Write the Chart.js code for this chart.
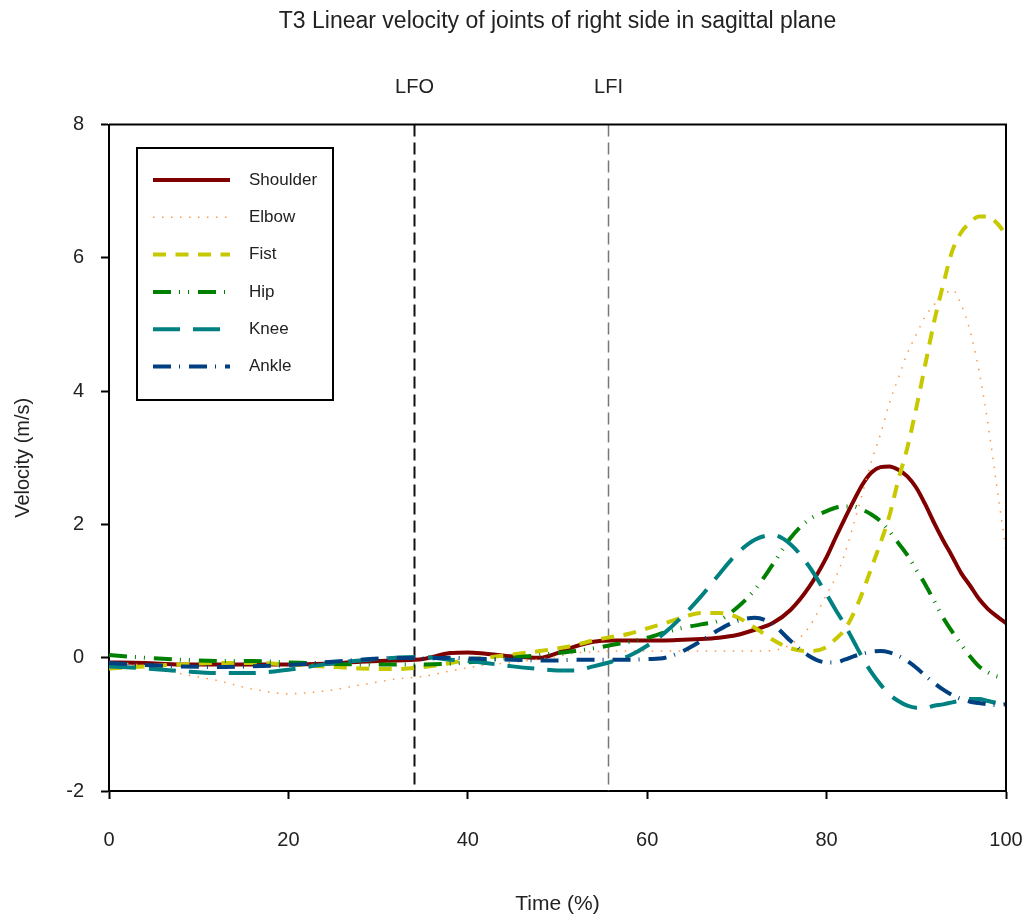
<!DOCTYPE html>
<html>
<head>
<meta charset="utf-8">
<title>T3 Linear velocity</title>
<script src="https://cdn.jsdelivr.net/npm/chart.js@4.4.0/dist/chart.umd.min.js"></script>
<style>
  html, body { margin: 0; padding: 0; background: #fff; }
  #wrap { width: 1029px; height: 917px; }
</style>
</head>
<body>
<div id="wrap"><canvas id="chart" width="1029" height="917"></canvas></div>
<script>
// Zeit (% des Bewegungszyklus) und Geschwindigkeiten (m/s) der rechten Gelenke
const time = [0, 4, 8, 12, 16, 20, 24, 28, 32, 35, 38, 40, 42, 45, 48,
  50, 52, 54, 56, 58, 60, 62, 64, 66, 68, 70, 72, 74, 76, 78, 80,
  81, 82, 83, 84, 85, 86, 87, 88, 89, 90, 91, 92, 93, 94, 95, 96, 97, 98, 99, 100];

const shoulder = [-0.07, -0.08, -0.1, -0.1, -0.1, -0.1, -0.09, -0.06, -0.04, -0.02, 0.07, 0.08, 0.06, 0.02, 0.0,
  0.07, 0.17, 0.24, 0.26, 0.26, 0.26, 0.26, 0.27, 0.28, 0.3, 0.34, 0.42, 0.52, 0.72, 1.05, 1.51,
  1.8, 2.08, 2.35, 2.6, 2.78, 2.86, 2.87, 2.82, 2.72, 2.55, 2.3, 2.02, 1.76, 1.52, 1.27, 1.08, 0.88, 0.73, 0.62, 0.52];

const elbow = [-0.06, -0.12, -0.24, -0.34, -0.47, -0.54, -0.5, -0.41, -0.32, -0.28, -0.2, -0.15, -0.11, -0.07, -0.02,
  0.02, 0.07, 0.09, 0.1, 0.1, 0.1, 0.1, 0.1, 0.1, 0.1, 0.1, 0.1, 0.11, 0.2, 0.45, 0.95,
  1.2, 1.55, 2.0, 2.47, 2.95, 3.35, 3.82, 4.2, 4.57, 4.85, 5.12, 5.3, 5.43, 5.52, 5.3, 4.9, 4.3, 3.5, 2.55, 1.6];

const fist = [-0.16, -0.13, -0.1, -0.08, -0.08, -0.1, -0.13, -0.16, -0.17, -0.14, -0.08, -0.03, 0.0, 0.05, 0.1,
  0.14, 0.19, 0.26, 0.31, 0.36, 0.44, 0.52, 0.61, 0.67, 0.67, 0.61, 0.45, 0.27, 0.14, 0.1, 0.16,
  0.28, 0.42, 0.66, 0.98, 1.35, 1.72, 2.13, 2.67, 3.15, 3.75, 4.4, 5.05, 5.6, 6.1, 6.38, 6.53, 6.62, 6.62, 6.52, 6.35];

const hip = [0.04, 0.0, -0.03, -0.05, -0.05, -0.07, -0.09, -0.1, -0.1, -0.1, -0.09, -0.07, -0.04, 0.0, 0.04,
  0.07, 0.1, 0.14, 0.19, 0.24, 0.3, 0.38, 0.45, 0.5, 0.56, 0.75, 1.02, 1.4, 1.8, 2.07, 2.2,
  2.25, 2.27, 2.27, 2.22, 2.15, 2.05, 1.9, 1.72, 1.54, 1.32, 1.1, 0.85, 0.6, 0.39, 0.2, 0.02, -0.13, -0.22, -0.28, -0.3];

const knee = [-0.13, -0.16, -0.2, -0.23, -0.23, -0.18, -0.1, -0.04, 0.0, 0.01, -0.03, -0.05, -0.08, -0.13, -0.17,
  -0.19, -0.19, -0.13, -0.06, 0.03, 0.18, 0.38, 0.63, 0.92, 1.25, 1.56, 1.77, 1.84, 1.7, 1.38, 0.95,
  0.72, 0.5, 0.25, 0.0, -0.22, -0.4, -0.55, -0.65, -0.72, -0.75, -0.75, -0.72, -0.7, -0.67, -0.64, -0.62, -0.62, -0.65, -0.68, -0.7];

const ankle = [-0.08, -0.11, -0.13, -0.14, -0.13, -0.11, -0.07, -0.03, 0.0, -0.01, 0.0, -0.01, -0.02, -0.03, -0.04,
  -0.04, -0.03, -0.03, -0.03, -0.03, -0.02, 0.0, 0.1, 0.25, 0.42, 0.55, 0.6, 0.5, 0.25, 0.03, -0.07,
  -0.07, -0.03, 0.02, 0.06, 0.09, 0.1, 0.08, 0.03, -0.05, -0.15, -0.27, -0.38, -0.48, -0.56, -0.62, -0.66, -0.68, -0.7, -0.71, -0.7];

// Ereignisse: Abheben (LFO) und Aufsetzen (LFI) des linken Fußes
const eventLabels = ['LFO', 'LFI'];
const eventTimes = [34, 55.6];

const FONT = "'Liberation Sans', Arial, sans-serif";
const TEXT = '#222';

function pts(values) {
  return time.map((t, i) => ({ x: t, y: values[i] }));
}

const series = [
  { label: 'Shoulder', data: shoulder, color: 'rgb(128,0,0)', width: 4, dash: [] },
  { label: 'Elbow', data: elbow, color: 'rgb(255,150,60)', width: 1.5, dash: [1.5, 7.5] },
  { label: 'Fist', data: fist, color: 'rgb(200,200,0)', width: 4, dash: [13, 9.5] },
  { label: 'Hip', data: hip, color: 'rgb(0,128,0)', width: 4, dash: [18, 8, 1, 8, 1, 9] },
  { label: 'Knee', data: knee, color: 'rgb(0,128,128)', width: 4, dash: [27, 13] },
  { label: 'Ankle', data: ankle, color: 'rgb(0,64,128)', width: 4, dash: [18, 8, 1, 9] }
];

// Senkrechte Ereignislinien, Rahmen und Legende
const overlay = {
  id: 'overlay',
  beforeDatasetsDraw(chart) {
    const { ctx, chartArea: a, scales: { x } } = chart;
    ctx.save();
    eventTimes.forEach((t, i) => {
      const px = Math.round(x.getPixelForValue(t)) + 0.5;
      ctx.strokeStyle = i === 0 ? '#111' : '#777';
      ctx.lineWidth = i === 0 ? 2 : 1.5;
      ctx.setLineDash([12, 6]);
      ctx.beginPath();
      ctx.moveTo(px, a.top);
      ctx.lineTo(px, a.bottom);
      ctx.stroke();
      ctx.setLineDash([]);
      ctx.fillStyle = TEXT;
      ctx.font = '20px ' + FONT;
      ctx.textAlign = 'center';
      ctx.textBaseline = 'middle';
      ctx.fillText(eventLabels[i], px, 87);
    });
    ctx.restore();
  },
  afterDraw(chart) {
    const { ctx, chartArea: a } = chart;
    ctx.save();
    // obere und rechte Rahmenlinie
    ctx.strokeStyle = '#000';
    ctx.lineWidth = 2;
    ctx.beginPath();
    ctx.moveTo(a.left, a.top);
    ctx.lineTo(a.right, a.top);
    ctx.lineTo(a.right, a.bottom);
    ctx.stroke();

    // Legende
    const bx = 137, by = 148, bw = 196, bh = 252;
    ctx.fillStyle = '#fff';
    ctx.fillRect(bx, by, bw, bh);
    ctx.strokeStyle = '#000';
    ctx.lineWidth = 2;
    ctx.strokeRect(bx, by, bw, bh);
    ctx.font = '17px ' + FONT;
    ctx.textAlign = 'left';
    ctx.textBaseline = 'middle';
    series.forEach((s, i) => {
      const y = by + 32 + i * 37.3;
      ctx.strokeStyle = s.color;
      ctx.lineWidth = s.width;
      ctx.lineCap = 'butt';
      ctx.setLineDash(s.dash);
      ctx.beginPath();
      ctx.moveTo(153, y);
      ctx.lineTo(230, y);
      ctx.stroke();
      ctx.setLineDash([]);
      ctx.fillStyle = TEXT;
      ctx.fillText(s.label, 249, y);
    });
    ctx.restore();
  }
};

const ctx = document.getElementById('chart').getContext('2d');
const chart = new Chart(ctx, {
  type: 'line',
  data: {
    datasets: series.map((s, i) => ({
      label: s.label,
      data: pts(s.data),
      borderColor: s.color,
      backgroundColor: s.color,
      borderWidth: s.width,
      borderDash: s.dash,
      borderCapStyle: 'butt',
      pointRadius: 0,
      fill: false,
      cubicInterpolationMode: 'monotone',
      order: series.length - i
    }))
  },
  options: {
    responsive: false,
    animation: false,
    devicePixelRatio: 1,
    layout: { padding: { left: 0, right: 23, top: 0, bottom: 0 } },
    plugins: {
      legend: { display: false },
      tooltip: { enabled: false },
      title: {
        display: true,
        fullSize: false,
        text: 'T3 Linear velocity of joints of right side in sagittal plane',
        color: TEXT,
        font: { family: FONT, size: 23, weight: 'normal' },
        padding: { top: 8, bottom: 89 }
      }
    },
    scales: {
      x: {
        type: 'linear',
        min: 0,
        max: 100,
        ticks: { stepSize: 20, padding: 29, color: TEXT, font: { family: FONT, size: 20 } },
        grid: { drawOnChartArea: false, drawTicks: true, tickLength: 8, tickColor: '#000', tickWidth: 2 },
        border: { display: true, color: '#000', width: 2 },
        title: { display: true, text: 'Time (%)', color: TEXT, font: { family: FONT, size: 21 }, padding: { top: 0, bottom: 0 } },
        afterFit(scale) {
          scale.height = 126;
          scale.paddingLeft = 0;
          scale.paddingRight = 0;
        }
      },
      y: {
        min: -2,
        max: 8,
        ticks: { stepSize: 2, padding: 17, color: TEXT, font: { family: FONT, size: 20 } },
        grid: { drawOnChartArea: false, drawTicks: true, tickLength: 8, tickColor: '#000', tickWidth: 2 },
        border: { display: true, color: '#000', width: 2 },
        title: { display: true, text: 'Velocity (m/s)', color: TEXT, font: { family: FONT, size: 20 }, padding: { top: 11, bottom: 0 } },
        afterFit(scale) {
          scale.width = 109;
          scale.paddingTop = 0;
          scale.paddingBottom = 0;
        }
      }
    }
  },
  plugins: [overlay]
});
</script>
</body>
</html>
